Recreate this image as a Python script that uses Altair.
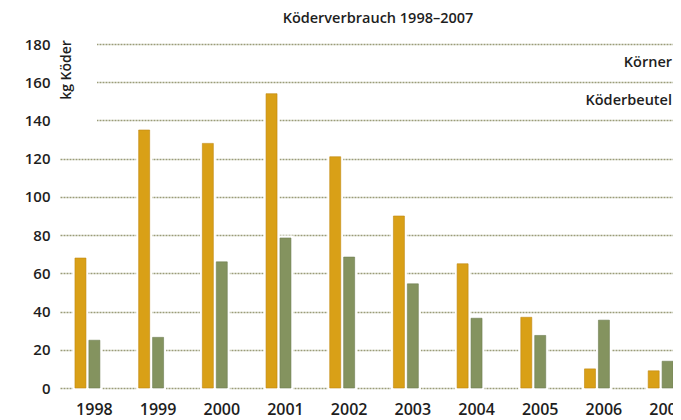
import altair as alt
import pandas as pd

years = ["1998", "1999", "2000", "2001", "2002", "2003", "2004", "2005", "2006", "2007"]
koerner = [68, 135, 128, 154, 121, 90, 65, 37, 10, 9]
beutel = [25, 26.5, 66, 78.5, 68.5, 54.5, 36.5, 27.5, 35.5, 14]
series = ["Körner", "Köderbeutel"]
slots = ["Körner", "Köderbeutel", "leer"]
colors = ["#d9a017", "#84935f"]
y_ticks = [0, 20, 40, 60, 80, 100, 120, 140, 160, 180]
legend_y = [170, 150]

rows = []
for i, yr in enumerate(years):
    rows.append({"Jahr": yr, "Art": series[0], "kg": koerner[i]})
    rows.append({"Jahr": yr, "Art": series[1], "kg": beutel[i]})
df = pd.DataFrame(rows)
leg = pd.DataFrame({"Art": series, "kg": legend_y})

FONT = "Open Sans"
TXT = "#1e1e1e"

xscale = alt.Scale(domain=years, range=[0, 642], paddingInner=0.39, paddingOuter=0.235)
oscale = alt.Scale(domain=slots, paddingInner=0.21, paddingOuter=0)
yscale = alt.Scale(domain=[0, 180])

yaxis = alt.Axis(title=None, values=y_ticks, ticks=False, domain=False, labelOverlap=False,
                 labelFontSize=15, labelFont=FONT, labelColor=TXT, labelPadding=10,
                 labelFontWeight=600, labelAlign="right",
                 grid=True, gridColor="#9a9c78", gridDash=[2, 1], gridWidth=1.5)

base = alt.Chart(df).encode(
    x=alt.X("Jahr:N", scale=xscale, sort=years,
            axis=alt.Axis(title=None, labelAngle=0, ticks=False, domain=False, grid=False,
                          labelFontSize=16, labelFont=FONT, labelColor=TXT, labelPadding=13,
                          labelFontWeight=600)),
    xOffset=alt.XOffset("Art:N", scale=oscale),
    y=alt.Y("kg:Q", scale=yscale, axis=yaxis),
)

mask_bars = base.mark_bar(color="white", stroke="white", strokeWidth=5)
bars = base.mark_bar(strokeWidth=0.6).encode(
    color=alt.Color("Art:N", scale=alt.Scale(domain=series, range=colors), legend=None),
    stroke=alt.Stroke("Art:N", scale=alt.Scale(domain=series, range=["#c08810", "#6f7e52"]), legend=None),
)

mask = alt.Chart(pd.DataFrame({"a": [1]})).mark_rect(color="white").encode(
    x=alt.value(0), x2=alt.value(37), y=alt.value(-10), y2=alt.value(92)
)
ytitle = alt.Chart(pd.DataFrame({"a": [1]})).mark_text(
    angle=270, font=FONT, fontSize=14, fontWeight=600, color=TXT, align="center", baseline="middle"
).encode(x=alt.value(7), y=alt.value(26), text=alt.value("kg Köder"))

title = alt.Chart(pd.DataFrame({"a": [1]})).mark_text(
    font=FONT, fontSize=14.5, fontWeight=600, color=TXT, align="center", baseline="middle"
).encode(x=alt.value(318), y=alt.value(-25.5), text=alt.value("Köderverbrauch 1998–2007"))

legend_txt = alt.Chart(leg).mark_text(
    font=FONT, fontSize=14.5, fontWeight=600, color=TXT, align="right", baseline="middle"
).encode(x=alt.value(612), y=alt.Y("kg:Q", scale=yscale, axis=yaxis), text="Art:N")

chart = alt.layer(mask_bars, bars, mask, ytitle, title, legend_txt).properties(
    width=613, height=344,
    autosize=alt.AutoSizeParams(type="none"),
    padding={"left": 52, "top": 36, "right": 0, "bottom": 30},
).configure_view(stroke=None)

chart.save("out.html", embed_options={"renderer": "svg", "actions": False})
